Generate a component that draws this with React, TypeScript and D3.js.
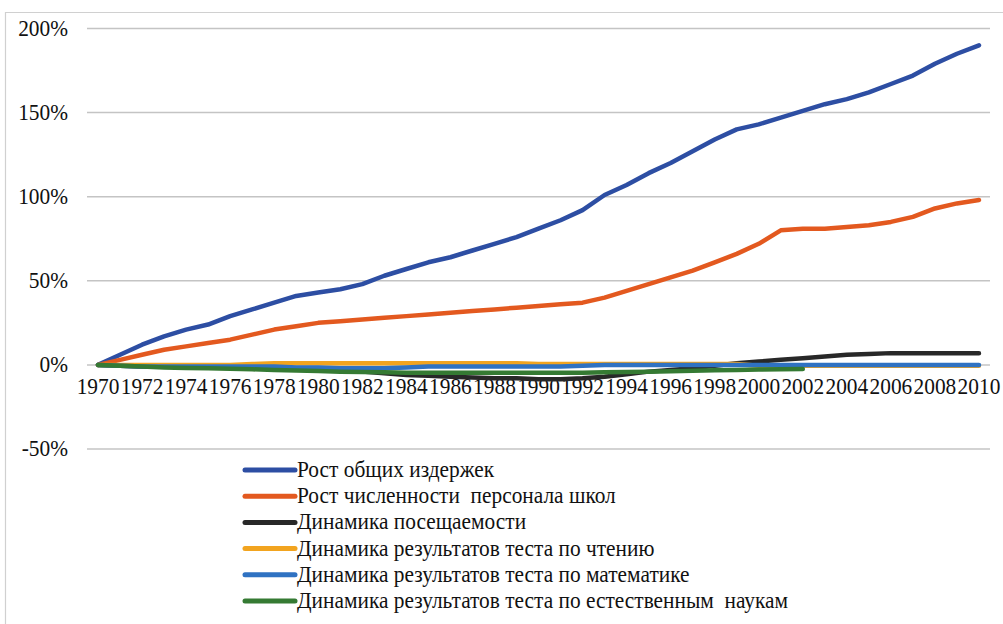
import React, { useEffect, useRef } from "react";
import * as d3 from "d3";

const years = [
  "1970", "1971", "1972", "1973", "1974", "1975", "1976", "1977", "1978", "1979",
  "1980", "1981", "1982", "1983", "1984", "1985", "1986", "1987", "1988", "1989",
  "1990", "1991", "1992", "1993", "1994", "1995", "1996", "1997", "1998", "1999",
  "2000", "2001", "2002", "2003", "2004", "2005", "2006", "2007", "2008", "2009", "2010",
];

const yTicks = [-50, 0, 50, 100, 150, 200];

const seriesNames = [
  "Рост общих издержек",
  "Рост численности  персонала школ",
  "Динамика посещаемости",
  "Динамика результатов теста по чтению",
  "Динамика результатов теста по математике",
  "Динамика результатов теста по естественным  наукам",
];

const seriesColors = ["#2d4ea3", "#e3591f", "#282828", "#f2a41f", "#2f72c2", "#357a33"];

const totalCosts = [
  0, 6, 12, 17, 21, 24, 29, 33, 37, 41, 43, 45, 48, 53, 57, 61, 64, 68, 72, 76,
  81, 86, 92, 101, 107, 114, 120, 127, 134, 140, 143, 147, 151, 155, 158, 162, 167, 172, 179, 185, 190,
];

const staff = [
  0, 3, 6, 9, 11, 13, 15, 18, 21, 23, 25, 26, 27, 28, 29, 30, 31, 32, 33, 34,
  35, 36, 37, 40, 44, 48, 52, 56, 61, 66, 72, 80, 81, 81, 82, 83, 85, 88, 93, 96, 98,
];

const attendance = [
  0, -0.5, -1, -1, -1, -1, -1, -1, -1.5, -2, -2.5, -3, -4, -5, -6, -6.5, -7, -7.5, -8, -8,
  -8.5, -8.5, -8, -7, -5.5, -4, -3, -2, -0.5, 1, 2, 3, 4, 5, 6, 6.5, 7, 7, 7, 7, 7,
];

const reading = [
  0, 0, 0, 0, 0, 0, 0, 0.5, 1, 1, 1, 1, 1, 1, 1, 1, 1, 1, 1, 1,
  0.5, 0.5, 0.5, 0.5, 0.5, 0.5, 0.5, 0.5, 0.5, 0.5, -0.5, -0.5, -0.5, -0.5, -0.5, -0.5, -0.5, -0.5, -0.5, -0.5, -0.5,
];

const math = [
  0, -0.5, -1, -1, -1, -1, -1, -1, -1, -1.5, -1.5, -2, -2, -2, -1.5, -1, -1, -1, -1, -1,
  -1, -1, -0.5, 0, 0, 0, 0, 0, 0, 0, 0, 0, 0, 0, 0, 0, 0, 0, 0, 0, 0,
];

const science: (number | null)[] = [
  0, -0.5, -1, -1.5, -1.8, -2, -2.3, -2.6, -3, -3.3, -3.6, -4, -4.2, -4.4, -4.6, -4.6, -4.6, -4.6, -4.6, -4.6,
  -4.6, -4.6, -4.6, -4.4, -4.2, -4, -3.8, -3.5, -3.2, -3, -2.8, -2.6, -2.5, null, null, null, null, null, null, null, null,
];

const allSeries: (number | null)[][] = [totalCosts, staff, attendance, reading, math, science];

const App: React.FC = () => {
  const svgRef = useRef<SVGSVGElement>(null);

  useEffect(() => {
    if (!svgRef.current) return;
    const width = 1003;
    const height = 624;
    const font = '"Liberation Serif", "DejaVu Serif", serif';
    const squeeze = 0.93; // text in the picture is a bit narrowed

    const svg = d3
      .select(svgRef.current)
      .attr("width", width)
      .attr("height", height)
      .style("font-family", font);
    svg.selectAll("*").remove();

    // outer frame
    svg
      .append("path")
      .attr("d", `M5.5,${height + 5} V12.5 H${width + 5}`)
      .attr("fill", "none")
      .attr("stroke", "#d0d0d0")
      .attr("stroke-width", 1.2);

    const x = d3.scalePoint<string>().domain(years).range([87, 990]).padding(0.5);
    const y = d3.scaleLinear().domain([-50, 200]).range([449, 28.5]);

    // gridlines
    svg
      .append("g")
      .selectAll("line")
      .data(yTicks)
      .join("line")
      .attr("x1", 87)
      .attr("x2", 990)
      .attr("y1", (d) => y(d))
      .attr("y2", (d) => y(d))
      .attr("stroke", "#c4c4c4")
      .attr("stroke-width", 1.5);

    // y labels
    svg
      .append("g")
      .selectAll("text")
      .data(yTicks)
      .join("text")
      .attr("transform", (d) => `translate(68,${y(d) + 7}) scale(${squeeze},1)`)
      .attr("text-anchor", "end")
      .attr("font-size", 23)
      .attr("fill", "#111")
      .text((d) => `${d}%`);

    // x labels, every second year
    svg
      .append("g")
      .selectAll("text")
      .data(years.filter((_, i) => i % 2 === 0))
      .join("text")
      .attr("transform", (d) => `translate(${x(d)},${y(0) + 29}) scale(${squeeze},1)`)
      .attr("text-anchor", "middle")
      .attr("font-size", 23)
      .attr("fill", "#111")
      .text((d) => d);

    // lines
    allSeries.forEach((values, si) => {
      const line = d3
        .line<number | null>()
        .defined((d) => d !== null)
        .x((_, i) => x(years[i]) as number)
        .y((d) => y(d as number));
      svg
        .append("path")
        .datum(values)
        .attr("fill", "none")
        .attr("stroke", seriesColors[si])
        .attr("stroke-width", 4.5)
        .attr("stroke-linejoin", "round")
        .attr("stroke-linecap", "round")
        .attr("d", line);
    });

    // legend
    const legend = svg
      .append("g")
      .selectAll("g")
      .data(seriesNames)
      .join("g")
      .attr("transform", (_, i) => `translate(245,${470 + i * 26.2})`);

    legend
      .append("line")
      .attr("x1", 0)
      .attr("x2", 50)
      .attr("stroke", (_, i) => seriesColors[i])
      .attr("stroke-width", 5)
      .attr("stroke-linecap", "round");

    legend
      .append("text")
      .attr("transform", `translate(52,7) scale(${squeeze},1)`)
      .attr("font-size", 23)
      .attr("fill", "#111")
      .style("white-space", "pre")
      .text((d) => d);
  }, []);

  return (
    <div style={{ position: "absolute", left: 0, top: 0 }}>
      <svg ref={svgRef}></svg>
    </div>
  );
};

export default App;
